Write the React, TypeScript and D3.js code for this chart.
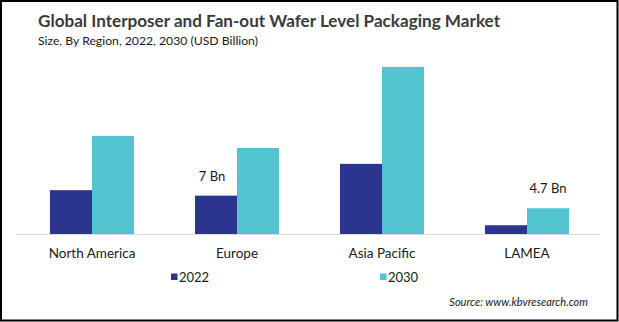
import React from "react";
import * as d3 from "d3";

const categories = ["North America", "Europe", "Asia Pacific", "LAMEA"];
const seriesNames = ["2022", "2030"];
const values2022 = [8.0, 7.0, 12.8, 1.6];
const values2030 = [17.9, 15.7, 30.5, 4.7];
const annotations = [
  { category: "Europe", series: "2022", value: 7.0, text: "7 Bn" },
  { category: "LAMEA", series: "2030", value: 4.7, text: "4.7 Bn" },
];
const colors = ["#2b3590", "#52c4cf"];
const title = "Global Interposer and Fan-out Wafer Level Packaging Market";
const subtitle = "Size, By Region, 2022, 2030 (USD Billion)";
const source = "Source: www.kbvresearch.com";

const W = 619;
const H = 322;
const FONT = "Lato, 'Open Sans', sans-serif";

export default function App() {
  const x = d3
    .scaleBand<string>()
    .domain(categories)
    .range([19.5, 599.5])
    .paddingInner(0.42)
    .paddingOuter(0.21);
  const xs = d3
    .scaleBand<string>()
    .domain(seriesNames)
    .range([0, x.bandwidth()]);
  const y = d3.scaleLinear().domain([0, 32]).range([234, 234 - 32 * 5.48]);
  const series = [values2022, values2030];

  return (
    <svg
      width={W}
      height={H}
      style={{ position: "absolute", left: 0, top: 0, background: "#fff" }}
      fontFamily={FONT}
    >
      <rect x={0} y={0} width={W} height={H} fill="#fff" />
      <text x={38} y={27} fontSize={17} fontWeight={700} fill="#3a3a3a" textLength={462} lengthAdjust="spacingAndGlyphs">
        {title}
      </text>
      <text x={38} y={44.5} fontSize={12.2} fill="#1a1a1a" textLength={220} lengthAdjust="spacingAndGlyphs">
        {subtitle}
      </text>

      {series.map((vals, si) =>
        categories.map((c, ci) => (
          <rect
            key={`${si}-${ci}`}
            x={(x(c) as number) + (xs(seriesNames[si]) as number)}
            y={y(vals[ci])}
            width={xs.bandwidth()}
            height={y(0) - y(vals[ci])}
            fill={colors[si]}
          />
        ))
      )}

      <line x1={17} x2={600} y1={y(0) + 0.5} y2={y(0) + 0.5} stroke="#d9d9d9" strokeWidth={1} />

      {categories.map((c) => (
        <text
          key={c}
          x={(x(c) as number) + x.bandwidth() / 2}
          y={258}
          textAnchor="middle"
          fontSize={13.5}
          fill="#1a1a1a"
        >
          {c}
        </text>
      ))}

      {annotations.map((a) => (
        <text
          key={a.text}
          x={(x(a.category) as number) + (xs(a.series) as number) + xs.bandwidth() / 2 - (a.series === "2022" ? 4 : 0)}
          y={y(a.value) - 15}
          textAnchor="middle"
          fontSize={13}
          fill="#1a1a1a"
        >
          {a.text}
        </text>
      ))}

      {seriesNames.map((s, i) => {
        const lx = i === 0 ? 171 : 380;
        return (
          <g key={s}>
            <rect x={lx} y={273.5} width={6.5} height={6.5} fill={colors[i]} />
            <text x={lx + 8} y={282} fontSize={13} fill="#1a1a1a">
              {s}
            </text>
          </g>
        );
      })}

      <text
        x={588}
        y={306}
        textAnchor="end"
        fontSize={11}
        fontStyle="italic"
        fill="#1a1a1a"
      >
        {source}
      </text>

      <rect x={1} y={1} width={616.5} height={319.5} fill="none" stroke="#000" strokeWidth={2} />
    </svg>
  );
}
